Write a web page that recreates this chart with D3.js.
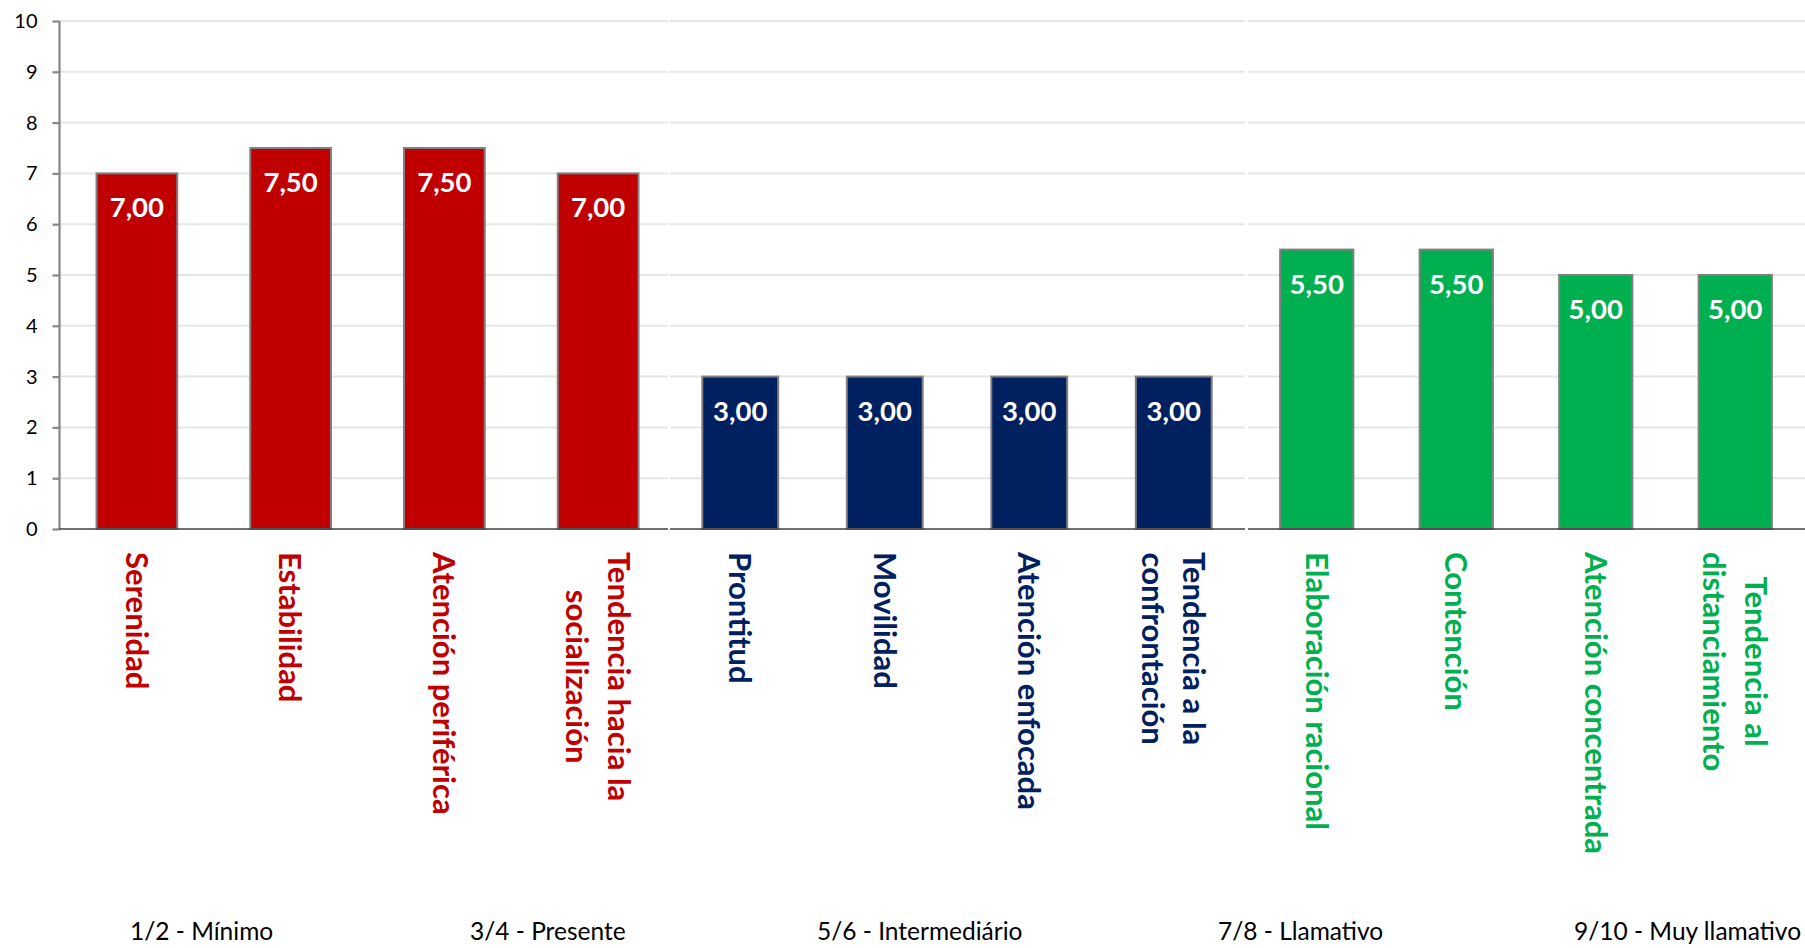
<!DOCTYPE html>
<html>
<head>
<meta charset="utf-8">
<script src="https://cdn.jsdelivr.net/npm/d3@7"></script>
<style>
  html, body { margin: 0; padding: 0; background: #fff; }
  svg { display: block; }
  text { font-family: Lato, "Open Sans", sans-serif; }
</style>
</head>
<body>
<svg id="chart" width="1805" height="948"></svg>
<script>
// ---- data ----
const groupNames = ["rojo", "azul", "verde"];
const groupColors = ["#C00000", "#002060", "#00B050"];
const catsRed = [["Serenidad"], ["Estabilidad"], ["Atención periférica"], ["Tendencia hacia la", "socialización"]];
const valsRed = [7.0, 7.5, 7.5, 7.0];
const catsBlue = [["Prontitud"], ["Movilidad"], ["Atención enfocada"], ["Tendencia a la", "confrontación"]];
const valsBlue = [3.0, 3.0, 3.0, 3.0];
const catsGreen = [["Elaboración racional"], ["Contención"], ["Atención concentrada"], ["Tendencia al", "distanciamiento"]];
const valsGreen = [5.5, 5.5, 5.0, 5.0];
const yTicks = [0, 1, 2, 3, 4, 5, 6, 7, 8, 9, 10];
const scaleLabels = ["1/2 - Mínimo", "3/4 - Presente", "5/6 - Intermediário", "7/8 - Llamativo", "9/10 - Muy llamativo"];

// ---- layout ----
const segRanges = [[60, 675], [668, 1246], [1247, 1805]];
const gridRanges = [[60, 668], [670, 1245], [1248, 1805]];
const scaleLabelX = [130, 470, 817, 1218, 1574];
const labelTop = 552;

const svg = d3.select("#chart");
const y = d3.scaleLinear().domain([0, 10]).range([529, 21]);

const groups = [
  { cats: catsRed, vals: valsRed },
  { cats: catsBlue, vals: valsBlue },
  { cats: catsGreen, vals: valsGreen }
];

// gridlines
groups.forEach((g, gi) => {
  svg.append("g").selectAll("line").data(yTicks.filter(t => t > 0)).join("line")
    .attr("x1", gridRanges[gi][0]).attr("x2", gridRanges[gi][1])
    .attr("y1", d => y(d)).attr("y2", d => y(d))
    .attr("stroke", "#e6e6e6").attr("stroke-width", 2);
});

// y axis
const yAxis = d3.axisLeft(y).tickValues(yTicks).tickSize(7).tickPadding(15).tickFormat(d3.format("d"));
const ax = svg.append("g").attr("transform", "translate(59.5,0)").call(yAxis);
ax.select(".domain").attr("stroke", "#878787").attr("stroke-width", 2.2).attr("d", `M0,${y(10)}V${y(0)}`);
ax.selectAll(".tick line").attr("stroke", "#878787").attr("stroke-width", 2.2);
ax.selectAll(".tick text").attr("font-size", 20).attr("fill", "#000").style("font-family", "Lato");

groups.forEach((g, gi) => {
  const idx = d3.range(g.cats.length);
  const x = d3.scaleBand().domain(idx).range(segRanges[gi]).paddingInner(0.475).paddingOuter(0.2375);
  const color = groupColors[gi];
  const seg = svg.append("g").attr("class", "seg-" + groupNames[gi]);

  // bars
  seg.selectAll("rect").data(idx).join("rect")
    .attr("x", i => x(i)).attr("width", x.bandwidth())
    .attr("y", i => y(g.vals[i])).attr("height", i => y(0) - y(g.vals[i]))
    .attr("fill", color).attr("stroke", "#7f7f7f").attr("stroke-width", 2);

  // baseline
  seg.append("line")
    .attr("x1", gridRanges[gi][0] - (gi === 0 ? 1 : 0)).attr("x2", gridRanges[gi][1])
    .attr("y1", y(0)).attr("y2", y(0))
    .attr("stroke", "#404040").attr("stroke-width", 1.6);

  // value labels
  seg.selectAll("text.val").data(idx).join("text").attr("class", "val")
    .attr("x", i => x(i) + x.bandwidth() / 2)
    .attr("y", i => y(g.vals[i]) + 44)
    .attr("text-anchor", "middle").attr("fill", "#fff")
    .attr("font-size", 27.5).attr("font-weight", 700)
    .text(i => d3.format(".2f")(g.vals[i]).replace(".", ","));

  // category labels (rotated)
  const fs = 31, lh = 41.5, cap = fs * 0.72;
  idx.forEach(i => {
    const lines = g.cats[i];
    const cx = x(i) + x.bandwidth() / 2;
    const lg = seg.append("g").attr("transform", `translate(${cx},${labelTop}) rotate(90)`);
    const texts = lines.map((ln, li) => lg.append("text")
      .attr("font-size", fs).attr("font-weight", 700).attr("fill", color)
      .attr("text-anchor", "middle")
      .attr("y", (li - (lines.length - 1) / 2) * lh + cap / 2)
      .text(ln));
    const W = d3.max(texts, t => t.node().getComputedTextLength());
    texts.forEach(t => t.attr("x", W / 2));
  });
});

// bottom scale labels
svg.append("g").selectAll("text").data(scaleLabels).join("text")
  .attr("x", (d, i) => scaleLabelX[i]).attr("y", 940)
  .attr("font-size", 24.5).attr("fill", "#000")
  .text(d => d);
</script>
</body>
</html>
